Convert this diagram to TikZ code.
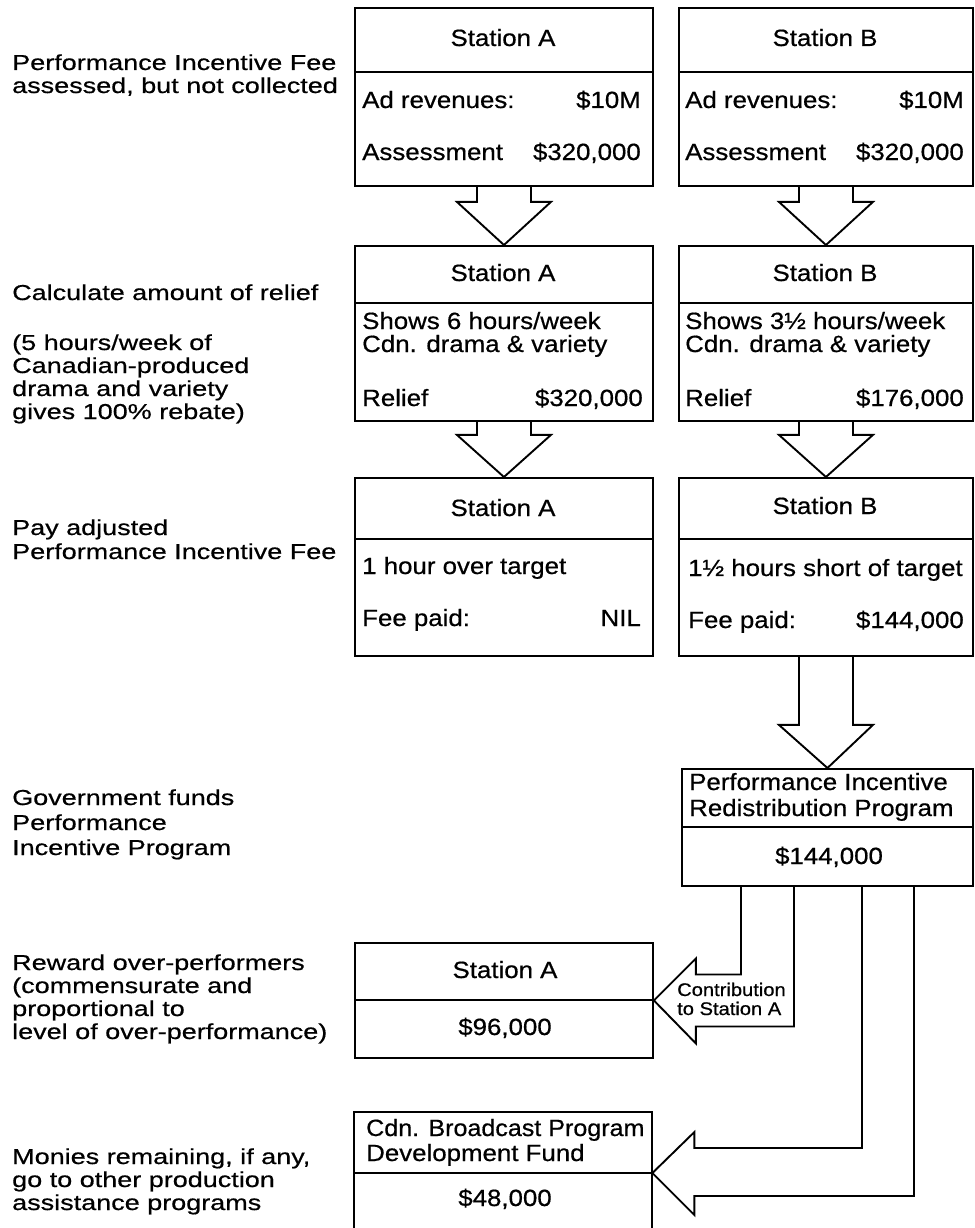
\documentclass[tikz,border=0pt]{standalone}
\usepackage{graphicx}
\usepackage{fontspec}
\setmainfont[FakeStretch=1.1,FakeBold=0.6]{Liberation Sans}
\newfontfamily\lblfamily[FakeStretch=1.25,FakeBold=0.6]{Liberation Sans}
\usetikzlibrary{calc}
\newcommand\fbig{\fontsize{23.5pt}{26pt}\selectfont}
\newcommand\flbl{\lblfamily\fontsize{21.6pt}{24pt}\selectfont}
\newcommand\fsmall{\fontsize{18.3pt}{20pt}\selectfont}
\begin{document}
\begin{tikzpicture}[x=1pt,y=-1pt,
  lw/.style={line width=1.9pt},
  box/.style={draw, lw, inner sep=0pt, anchor=north west},
  fat/.style={draw, lw, line join=miter},
  lb/.style={anchor=base west, inner sep=0pt, font=\flbl},
  lt/.style={anchor=base west, inner sep=0pt, font=\fbig},
  ct/.style={anchor=base, inner sep=0pt, font=\fbig},
  rt/.style={anchor=base east, inner sep=0pt, font=\fbig},
  sm/.style={anchor=base west, inner sep=0pt, font=\fsmall}]
\useasboundingbox[fill=white] (0,0) rectangle (974,1228);

% ---------- left-hand labels ----------
\node[lb] (l1a) at (12,70) {Performance Incentive Fee};
\node[lb] (l1b) at (12,93) {assessed, but not collected};
\node[lb] (l2a) at (12,300) {Calculate amount of relief};
\node[lb] (l2b) at (12,350) {(5 hours/week of};
\node[lb] (l2c) at (12,373) {Canadian-produced};
\node[lb] (l2d) at (12,396) {drama and variety};
\node[lb] (l2e) at (12,419) {gives 100\% rebate)};
\node[lb] (l3a) at (12,535) {Pay adjusted};
\node[lb] (l3b) at (12,559) {Performance Incentive Fee};
\node[lb] (l4a) at (12,805) {Government funds};
\node[lb] (l4b) at (12,830) {Performance};
\node[lb] (l4c) at (12,855) {Incentive Program};
\node[lb] (l5a) at (12,970) {Reward over-performers};
\node[lb] (l5b) at (12,993) {(commensurate and};
\node[lb] (l5c) at (12,1016) {proportional to};
\node[lb] (l5d) at (12,1039) {level of over-performance)};
\node[lb] (l6a) at (12,1164) {Monies remaining, if any,};
\node[lb] (l6b) at (12,1187) {go to other production};
\node[lb] (l6c) at (12,1210) {assistance programs};

% ---------- boxes ----------
\node[box, minimum width=298pt, minimum height=178pt] (a1) at (354,7) {};
\node[box, minimum width=294pt, minimum height=178pt] (b1) at (678,7) {};
\node[box, minimum width=298pt, minimum height=175pt] (a2) at (354,245) {};
\node[box, minimum width=294pt, minimum height=175pt] (b2) at (678,245) {};
\node[box, minimum width=298pt, minimum height=178pt] (a3) at (354,477) {};
\node[box, minimum width=294pt, minimum height=178pt] (b3) at (678,477) {};
\node[box, minimum width=291pt, minimum height=117pt] (p) at (681,768) {};
\node[box, minimum width=298pt, minimum height=115pt] (r) at (354,942) {};
\node[inner sep=0pt, anchor=north west, minimum width=298pt, minimum height=120pt] (c) at (354,1112) {};
\draw[lw] (c.south west) -- (c.north west) -- (c.north east) -- (c.south east);
\coordinate (cdiv) at ($(c.north east)+(0,61)$);

% dividers
\draw[lw] (a1.west |- 0,72) -- (a1.east |- 0,72);
\draw[lw] (b1.west |- 0,72) -- (b1.east |- 0,72);
\draw[lw] (a2.west |- 0,303) -- (a2.east |- 0,303);
\draw[lw] (b2.west |- 0,303) -- (b2.east |- 0,303);
\draw[lw] (a3.west |- 0,539) -- (a3.east |- 0,539);
\draw[lw] (b3.west |- 0,539) -- (b3.east |- 0,539);
\draw[lw] (p.west |- 0,827) -- (p.east |- 0,827);
\draw[lw] (r.west |- 0,1000) -- (r.east |- 0,1000);
\draw[lw] (c.west |- cdiv) -- (cdiv);

% ---------- box texts ----------
\node[ct] (a1t) at (503,46) {Station A};
\node[lt] (a1r) at (362,108) {Ad revenues:};
\node[rt] (a1v) at (641,108) {\$10M};
\node[lt] (a1s) at (362,160) {Assessment};
\node[rt] (a1w) at (641,160) {\$320,000};

\node[ct] (b1t) at (825,46) {Station B};
\node[lt] (b1r) at (685,108) {Ad revenues:};
\node[rt] (b1v) at (964,108) {\$10M};
\node[lt] (b1s) at (685,160) {Assessment};
\node[rt] (b1w) at (964,160) {\$320,000};

\node[ct] (a2t) at (503,281) {Station A};
\node[lt] (a2a) at (362,329) {Shows 6 hours/week};
\node[lt] (a2b) at (362,352) {Cdn. drama \& variety};
\node[lt] (a2c) at (362,406) {Relief};
\node[rt] (a2v) at (643,406) {\$320,000};

\node[ct] (b2t) at (825,281) {Station B};
\node[lt] (b2a) at (685,329) {Shows 3½ hours/week};
\node[lt] (b2b) at (685,352) {Cdn. drama \& variety};
\node[lt] (b2c) at (685,406) {Relief};
\node[rt] (b2v) at (964,406) {\$176,000};

\node[ct] (a3t) at (503,516) {Station A};
\node[lt] (a3a) at (362,574) {1 hour over target};
\node[lt] (a3b) at (362,626) {Fee paid:};
\node[rt] (a3v) at (641,626) {NIL};

\node[ct] (b3t) at (825,514) {Station B};
\node[lt] (b3a) at (688,576) {1½ hours short of target};
\node[lt] (b3b) at (688,628) {Fee paid:};
\node[rt] (b3v) at (964,628) {\$144,000};

\node[lt] (pa) at (689,790) {Performance Incentive};
\node[lt] (pb) at (689,816) {Redistribution Program};
\node[ct] (pv) at (829,864) {\$144,000};

\node[ct] (rt1) at (505,978) {Station A};
\node[ct] (rv) at (505,1035) {\$96,000};

\node[lt] (ca) at (366,1136) {\scalebox{0.97}[1]{Cdn. Broadcast Program}};
\node[lt] (cb) at (366,1161) {Development Fund};
\node[ct] (cv) at (505,1206) {\$48,000};

\node[sm] (k1) at (677,996) {Contribution};
\node[sm] (k2) at (677,1015) {to Station A};

% ---------- fat arrows ----------
\draw[fat] ($(a1.south)+(-27,0)$) |- ($(a1.south)+(-47,15)$) -- (a2.north)
  -- ($(a1.south)+(47,15)$) -| ($(a1.south)+(27,0)$);
\draw[fat] ($(b1.south)+(-27,0)$) |- ($(b1.south)+(-47,15)$) -- (b2.north)
  -- ($(b1.south)+(47,15)$) -| ($(b1.south)+(27,0)$);
\draw[fat] ($(a2.south)+(-27,0)$) |- ($(a2.south)+(-47,13)$) -- (a3.north)
  -- ($(a2.south)+(47,13)$) -| ($(a2.south)+(27,0)$);
\draw[fat] ($(b2.south)+(-27,0)$) |- ($(b2.south)+(-47,13)$) -- (b3.north)
  -- ($(b2.south)+(47,13)$) -| ($(b2.south)+(27,0)$);
\draw[fat] ($(b3.south)+(-27,0)$) |- ($(b3.south)+(-47,68)$) -- (p.north)
  -- ($(b3.south)+(47,68)$) -| ($(b3.south)+(27,0)$);

\draw[fat] ($(p.south west)+(60,0)$) |- ($(r.east)+(42,-26)$) -- ($(r.east)+(42,-42)$)
  -- (r.east) -- ($(r.east)+(42,43)$) -- ($(r.east)+(42,26)$) -| ($(p.south west)+(113,0)$);
\draw[fat] ($(p.south west)+(181,0)$) |- ($(cdiv)+(42,-25)$) -- ($(cdiv)+(42,-41)$)
  -- (cdiv) -- ($(cdiv)+(42,42)$) -- ($(cdiv)+(42,23)$) -| ($(p.south west)+(233,0)$);
\end{tikzpicture}
\end{document}
